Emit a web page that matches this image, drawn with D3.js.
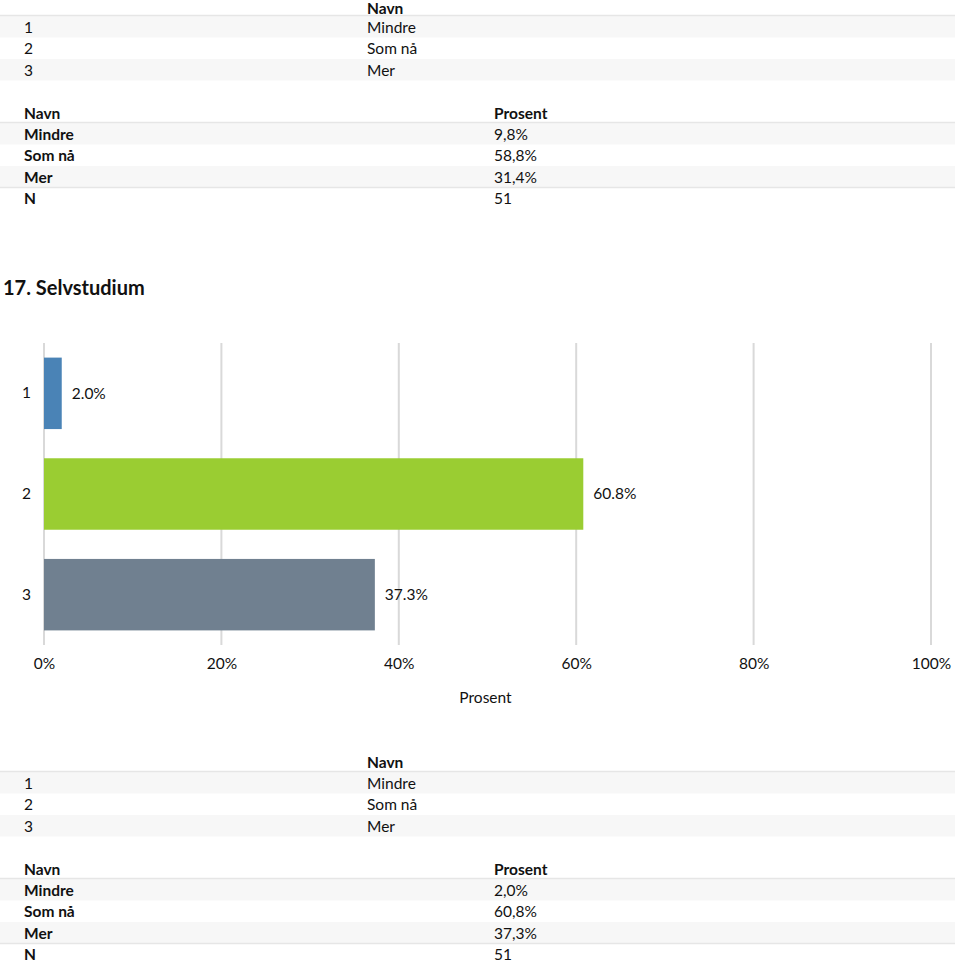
<!DOCTYPE html>
<html>
<head>
<meta charset="utf-8">
<script src="https://cdn.jsdelivr.net/npm/d3@7"></script>
<style>
  html, body { margin: 0; padding: 0; background: #fff; }
  svg { display: block; }
  text { font-family: Lato, "Open Sans", sans-serif; fill: #111; }
</style>
</head>
<body>
<svg id="chart" width="960" height="963"></svg>
<script>
// ---- data ----
const categories = ["1", "2", "3"];
const names = ["Mindre", "Som nå", "Mer"];
const values = [2.0, 60.8, 37.3];
const barColors = ["#4a83b6", "#9acd32", "#708090"];
const prevPercents = ["9,8%", "58,8%", "31,4%"];
const prevN = 51;
const curN = 51;
const xTicks = [0, 20, 40, 60, 80, 100];
const title = "17. Selvstudium";
const axisTitle = "Prosent";

const svg = d3.select("#chart");
const W = 960;

// ---- tables ----
function navnTable(y0, headerY) {
  const g = svg.append("g");
  const rowH = 21.5;
  g.append("text").attr("x", 367).attr("y", headerY).attr("font-size", 15.5)
    .attr("font-weight", "bold").text("Navn");
  categories.forEach((c, i) => {
    const top = y0 + 10 + i * rowH;
    if (i % 2 === 0) {
      g.append("rect").attr("x", 0).attr("y", top).attr("width", W - 5)
        .attr("height", rowH).attr("fill", "#f7f7f7");
    }
    g.append("text").attr("x", 24).attr("y", top + rowH / 2 + 6).attr("font-size", 15.5).text(c);
    g.append("text").attr("x", 367).attr("y", top + rowH / 2 + 6).attr("font-size", 15.5).text(names[i]);
  });
  g.append("line").attr("x1", 0).attr("x2", W - 5).attr("y1", y0 + 9.5).attr("y2", y0 + 9.5)
    .attr("stroke", "#e6e6e6").attr("stroke-width", 1.5);
}

function prosentTable(y0, percents, n) {
  const g = svg.append("g");
  const rowH = 21.5;
  g.append("text").attr("x", 24).attr("y", y0 + 6).attr("font-size", 15.5)
    .attr("font-weight", "bold").text("Navn");
  g.append("text").attr("x", 494).attr("y", y0 + 6).attr("font-size", 15.5)
    .attr("font-weight", "bold").text("Prosent");
  const rows = names.map((nm, i) => [nm, percents[i]]).concat([["N", String(n)]]);
  rows.forEach((r, i) => {
    const top = y0 + 10 + i * rowH;
    if (i % 2 === 0 && i < 3) {
      g.append("rect").attr("x", 0).attr("y", top).attr("width", W - 5)
        .attr("height", rowH).attr("fill", "#f7f7f7");
    }
    g.append("text").attr("x", 24).attr("y", top + rowH / 2 + 6).attr("font-size", 15.5)
      .attr("font-weight", "bold").text(r[0]);
    g.append("text").attr("x", 494).attr("y", top + rowH / 2 + 6).attr("font-size", 15.5).text(r[1]);
  });
  g.append("line").attr("x1", 0).attr("x2", W - 5).attr("y1", y0 + 9.5).attr("y2", y0 + 9.5)
    .attr("stroke", "#e6e6e6").attr("stroke-width", 1.5);
  g.append("line").attr("x1", 0).attr("x2", W - 5).attr("y1", y0 + 10 + 3 * rowH).attr("y2", y0 + 10 + 3 * rowH)
    .attr("stroke", "#e6e6e6").attr("stroke-width", 1.5);
}

navnTable(6, 14);
prosentTable(113, prevPercents, prevN);

// ---- title ----
svg.append("text").attr("x", 3).attr("y", 295).attr("font-size", 20)
  .attr("font-weight", "bold").text(title);

// ---- chart ----
const x = d3.scaleLinear().domain([0, 100]).range([44, 931]);
const y = d3.scaleBand().domain(categories).range([343, 645])
  .paddingInner(0.29).paddingOuter(0.145);

const grid = svg.append("g");
grid.selectAll("line").data(xTicks).join("line")
  .attr("x1", d => x(d)).attr("x2", d => x(d))
  .attr("y1", 343).attr("y2", 645)
  .attr("stroke", "#d9d9d9").attr("stroke-width", 2);

const xAxis = d3.axisBottom(x).tickValues(xTicks).tickFormat(d => d + "%").tickSize(0).tickPadding(0);
const ax = svg.append("g").attr("transform", "translate(0,658)").call(xAxis);
ax.select(".domain").remove();
ax.selectAll("text").attr("font-size", 15.5).attr("fill", "#111")
  .attr("font-family", "Lato, 'Open Sans', sans-serif").attr("dy", "0.71em");

const yAxis = d3.axisLeft(y).tickSize(0).tickPadding(0);
const ay = svg.append("g").attr("transform", "translate(31,0)").call(yAxis);
ay.select(".domain").remove();
ay.selectAll("text").attr("font-size", 15.5).attr("fill", "#111")
  .attr("font-family", "Lato, 'Open Sans', sans-serif");

svg.append("g").selectAll("rect").data(values).join("rect")
  .attr("x", x(0)).attr("y", (d, i) => y(categories[i]))
  .attr("width", d => x(d) - x(0)).attr("height", y.bandwidth())
  .attr("fill", (d, i) => barColors[i]);

svg.append("g").selectAll("text").data(values).join("text")
  .attr("x", d => x(d) + 10).attr("y", (d, i) => y(categories[i]) + y.bandwidth() / 2)
  .attr("dy", "0.35em").attr("font-size", 15.5).text(d => d.toFixed(1) + "%");

svg.append("text").attr("x", x(50) - 2).attr("y", 703).attr("text-anchor", "middle")
  .attr("font-size", 15.5).text(axisTitle);

// ---- bottom tables ----
navnTable(762, 768);
const curPercents = values.map(v => v.toFixed(1).replace(".", ",") + "%");
prosentTable(869, curPercents, curN);
</script>
</body>
</html>
